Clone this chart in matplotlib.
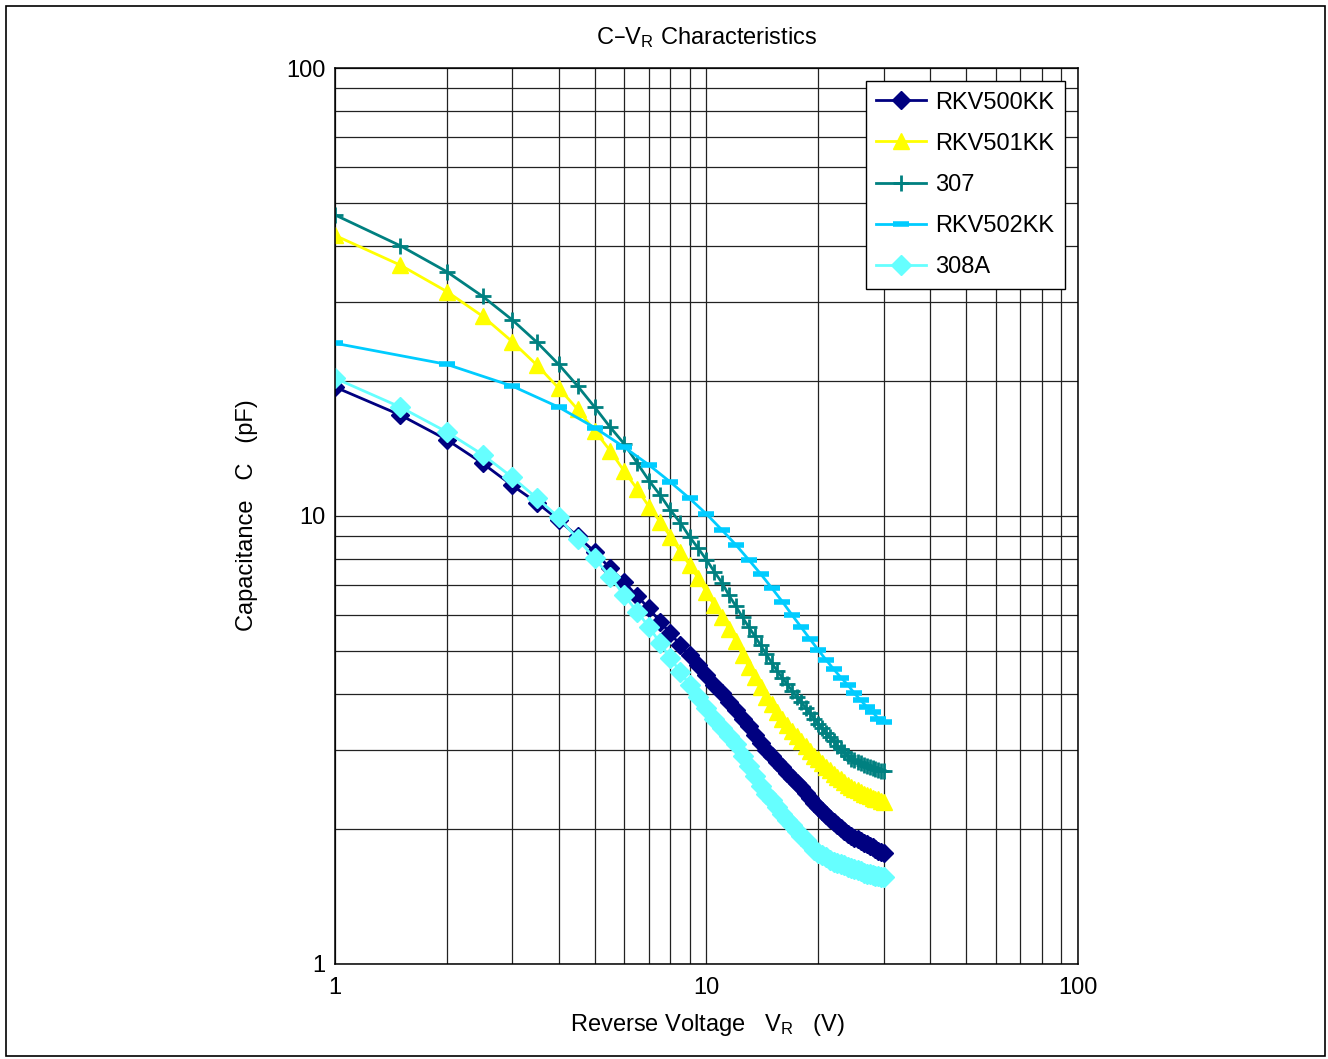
import matplotlib
matplotlib.use("Agg")
import matplotlib.pyplot as plt
from matplotlib.patches import Rectangle
from matplotlib.ticker import LogLocator, NullFormatter, FixedLocator, FixedFormatter

plt.rcParams["font.family"] = ["Liberation Sans", "DejaVu Sans"]
plt.rcParams["mathtext.default"] = "regular"

# reverse voltage (V), half-volt steps
vr_half = [1.0, 1.5, 2.0, 2.5, 3.0, 3.5, 4.0, 4.5, 5.0, 5.5,
           6.0, 6.5, 7.0, 7.5, 8.0, 8.5, 9.0, 9.5, 10.0, 10.5,
           11.0, 11.5, 12.0, 12.5, 13.0, 13.5, 14.0, 14.5, 15.0, 15.5,
           16.0, 16.5, 17.0, 17.5, 18.0, 18.5, 19.0, 19.5, 20.0, 20.5,
           21.0, 21.5, 22.0, 22.5, 23.0, 23.5, 24.0, 24.5, 25.0, 25.5,
           26.0, 26.5, 27.0, 27.5, 28.0, 28.5, 29.0, 29.5, 30.0]
# integer steps (RKV502KK)
vr_int = [1, 2, 3, 4, 5, 6, 7, 8, 9, 10,
          11, 12, 13, 14, 15, 16, 17, 18, 19, 20,
          21, 22, 23, 24, 25, 26, 27, 28, 29, 30]

# capacitance (pF)
rkv500kk = [19.4, 16.8, 14.8, 13.1, 11.7, 10.7, 9.8, 9.0, 8.32, 7.64,
            7.13, 6.63, 6.22, 5.81, 5.47, 5.15, 4.90, 4.65, 4.42, 4.20,
            4.02, 3.85, 3.69, 3.53, 3.39, 3.25, 3.12, 3.00, 2.91, 2.82,
            2.75, 2.67, 2.60, 2.54, 2.48, 2.41, 2.35, 2.29, 2.24, 2.20,
            2.15, 2.11, 2.075, 2.04, 2.01, 1.98, 1.955, 1.93, 1.915, 1.90,
            1.88, 1.86, 1.85, 1.835, 1.82, 1.805, 1.79, 1.78, 1.77]
rkv501kk = [42.3, 36.3, 31.7, 27.9, 24.5, 21.7, 19.3, 17.3, 15.5, 14.0,
            12.6, 11.5, 10.5, 9.71, 8.99, 8.33, 7.78, 7.26, 6.75, 6.32,
            5.95, 5.60, 5.25, 4.90, 4.60, 4.37, 4.15, 3.95, 3.80, 3.66,
            3.52, 3.42, 3.32, 3.23, 3.14, 3.07, 2.99, 2.92, 2.87, 2.81,
            2.75, 2.71, 2.66, 2.62, 2.59, 2.55, 2.51, 2.48, 2.46, 2.44,
            2.42, 2.40, 2.38, 2.37, 2.35, 2.34, 2.33, 2.31, 2.30]
c307 = [47.0, 40.1, 35.1, 30.9, 27.4, 24.4, 21.8, 19.5, 17.5, 15.8,
        14.5, 13.15, 12.0, 11.14, 10.3, 9.66, 8.99, 8.47, 7.98, 7.51,
        7.10, 6.65, 6.29, 5.94, 5.65, 5.39, 5.14, 4.91, 4.69, 4.51,
        4.35, 4.21, 4.07, 3.95, 3.84, 3.73, 3.63, 3.53, 3.44, 3.36,
        3.28, 3.21, 3.14, 3.07, 3.02, 2.97, 2.92, 2.87, 2.85, 2.83,
        2.81, 2.78, 2.76, 2.75, 2.74, 2.73, 2.71, 2.70, 2.69]
rkv502kk = [24.3, 21.8, 19.5, 17.5, 15.75, 14.25, 13.0, 11.9, 10.95, 10.1,
            9.31, 8.62, 7.98, 7.42, 6.90, 6.44, 6.01, 5.64, 5.31, 5.02,
            4.77, 4.55, 4.36, 4.20, 4.02, 3.88, 3.75, 3.65, 3.53, 3.47]
c308a = [20.3, 17.5, 15.4, 13.7, 12.2, 10.95, 9.93, 8.88, 8.05, 7.32,
         6.66, 6.12, 5.66, 5.20, 4.81, 4.49, 4.20, 3.95, 3.72, 3.52,
         3.37, 3.22, 3.09, 2.92, 2.76, 2.63, 2.50, 2.40, 2.32, 2.24,
         2.16, 2.10, 2.04, 1.98, 1.93, 1.89, 1.84, 1.80, 1.77, 1.75,
         1.73, 1.705, 1.69, 1.68, 1.67, 1.66, 1.645, 1.64, 1.63, 1.62,
         1.61, 1.60, 1.59, 1.585, 1.58, 1.575, 1.57, 1.565, 1.56]

W, H = 1328, 1059
fig = plt.figure(figsize=(W / 100, H / 100), dpi=100)
fig.patches.append(Rectangle((6 / W, 3 / H), 1319 / W, 1050 / H,
                             transform=fig.transFigure, fill=False,
                             edgecolor="black", lw=1.2))

ax = fig.add_axes([335 / W, (H - 964) / H, 743 / W, 896 / H])
ax.set_xscale("log")
ax.set_yscale("log")
ax.set_xlim(1, 100)
ax.set_ylim(1, 100)

fs = 17
lw = 2.0
ax.plot(vr_half, rkv500kk, color="#000080", lw=lw, marker="D", ms=9,
        label="RKV500KK")
ax.plot(vr_half, rkv501kk, color="#FFFF00", lw=lw, marker="^", ms=12,
        label="RKV501KK")
ax.plot(vr_half, c307, color="#008080", lw=lw, marker="+", ms=11, mew=2,
        label="307")
ax.plot(vr_int, rkv502kk, color="#00CCFF", lw=lw, marker="_", ms=11, mew=4,
        label="RKV502KK")
ax.plot(vr_half, c308a, color="#66FFFF", lw=lw, marker="D", ms=10,
        label="308A")

for axis in (ax.xaxis, ax.yaxis):
    axis.set_major_locator(FixedLocator([1, 10, 100]))
    axis.set_major_formatter(FixedFormatter(["1", "10", "100"]))
    axis.set_minor_locator(LogLocator(base=10, subs=range(2, 10)))
    axis.set_minor_formatter(NullFormatter())
ax.tick_params(which="both", length=0, labelsize=fs)
ax.tick_params(axis="x", pad=9)
ax.tick_params(axis="y", pad=7)
ax.grid(which="both", color="#222222", lw=0.9)
ax.set_axisbelow(True)
for s in ax.spines.values():
    s.set_linewidth(1.1)

leg = ax.legend(loc="upper right", bbox_to_anchor=(0.9825, 0.9855),
                borderaxespad=0, fontsize=fs, fancybox=False,
                edgecolor="black", framealpha=1, handlelength=2.1,
                handletextpad=0.4, labelspacing=0.81, borderpad=0.45)
leg.get_frame().set_linewidth(1.0)

fig.text(707 / W, 1 - 38 / H, "C\u2013V$_\\mathregular{R}$ Characteristics",
         ha="center", va="center", fontsize=fs)
fig.text(707 / W, 1 - 1025 / H, "Reverse Voltage   V$_\\mathregular{R}$   (V)",
         ha="center", va="center", fontsize=fs)
fig.text(247 / W, 1 - 515 / H, "Capacitance   C   (pF)", rotation=90,
         ha="center", va="center", fontsize=fs)

fig.savefig("out.png", dpi=100)
